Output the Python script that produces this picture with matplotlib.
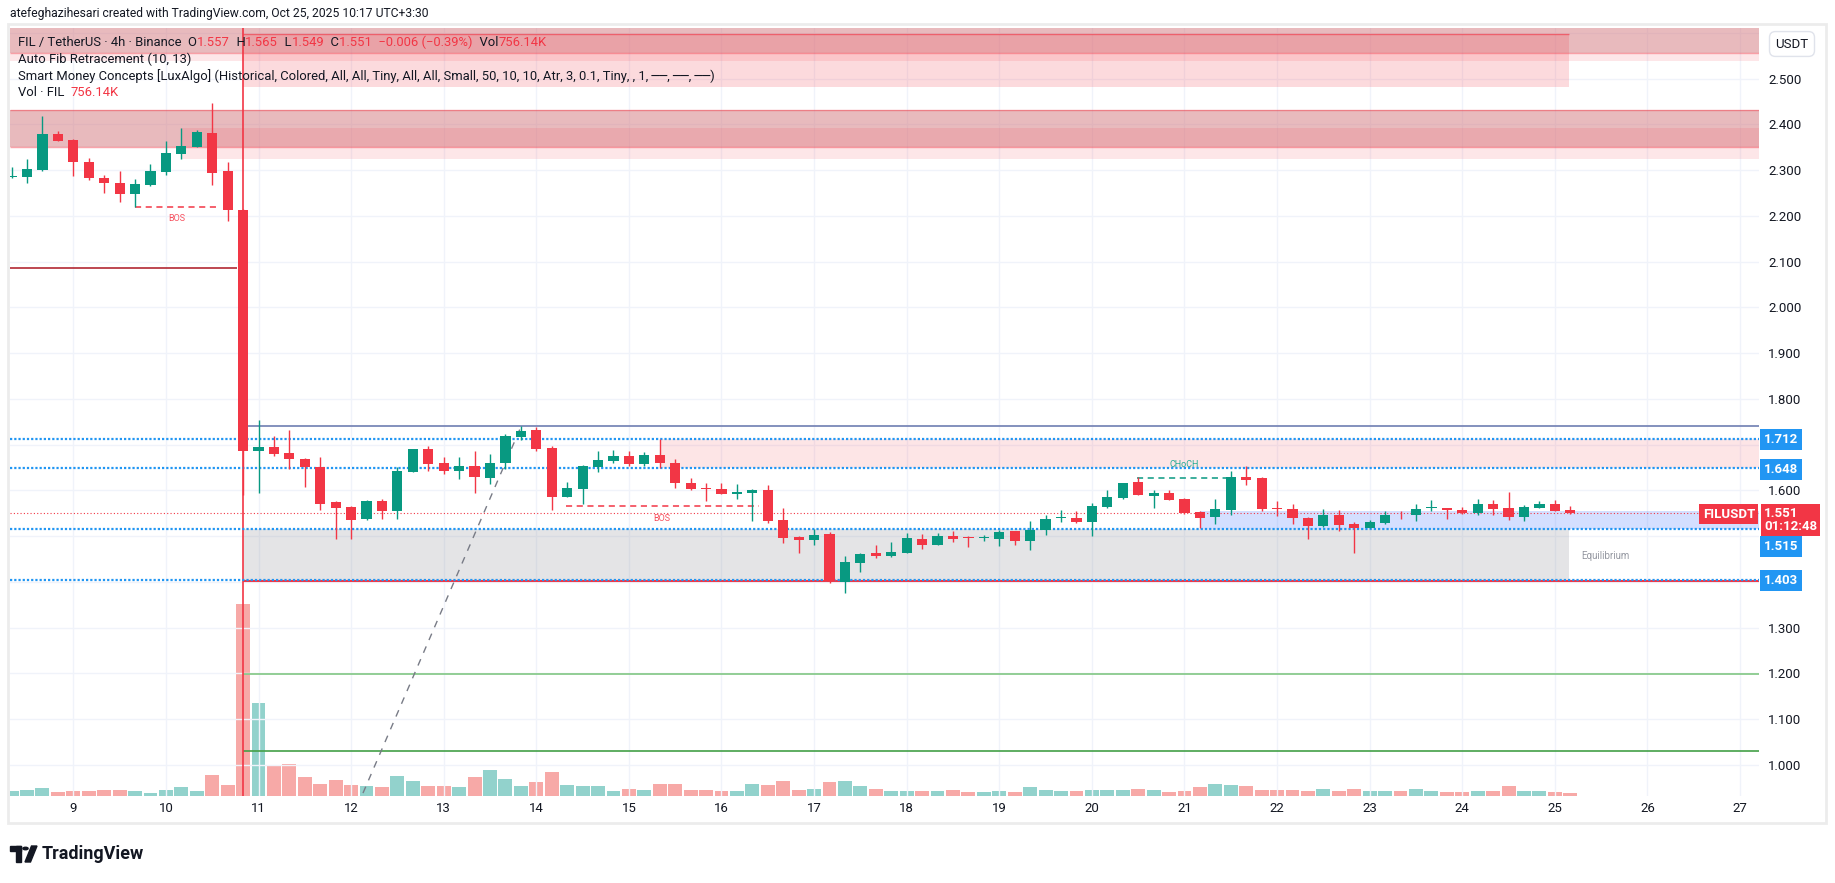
import matplotlib.pyplot as plt
from matplotlib.patches import Rectangle, Circle, Polygon
from matplotlib.transforms import blended_transform_factory
import numpy as np

plt.rcParams['font.family'] = ['Roboto', 'DejaVu Sans']

# FIL/USDT 4h candles, first bar = Oct 8 08:00, index 0 = Oct 11 00:00
first_bar = -16
opens = [2.285, 2.286, 2.300, 2.379, 2.366, 2.319, 2.284, 2.271, 2.249, 2.268, 2.297, 2.336, 2.351, 2.381, 2.298, 2.212,
         1.685, 1.695, 1.682, 1.668, 1.651, 1.574, 1.564, 1.538, 1.577, 1.555, 1.641, 1.690, 1.660, 1.643, 1.653, 1.628,
         1.660, 1.717, 1.732, 1.692, 1.586, 1.604, 1.652, 1.665, 1.675, 1.658, 1.677, 1.660, 1.616, 1.605, 1.603, 1.593,
         1.595, 1.601, 1.535, 1.499, 1.492, 1.504, 1.400, 1.442, 1.463, 1.457, 1.464, 1.494, 1.481, 1.500, 1.496, 1.495,
         1.494, 1.511, 1.490, 1.513, 1.539, 1.539, 1.531, 1.563, 1.583, 1.618, 1.588, 1.594, 1.581, 1.553, 1.542, 1.557,
         1.629, 1.627, 1.562, 1.559, 1.540, 1.522, 1.545, 1.526, 1.518, 1.529, 1.546, 1.545, 1.561, 1.561, 1.557, 1.550,
         1.570, 1.561, 1.542, 1.561, 1.570, 1.557]
highs = [2.306, 2.325, 2.419, 2.386, 2.368, 2.326, 2.289, 2.298, 2.281, 2.314, 2.364, 2.392, 2.388, 2.448, 2.319, 2.215,
         1.754, 1.719, 1.732, 1.670, 1.673, 1.577, 1.566, 1.578, 1.581, 1.652, 1.691, 1.698, 1.672, 1.673, 1.686, 1.679,
         1.723, 1.740, 1.738, 1.697, 1.618, 1.655, 1.686, 1.688, 1.686, 1.684, 1.712, 1.668, 1.626, 1.615, 1.616, 1.613,
         1.604, 1.612, 1.561, 1.501, 1.515, 1.508, 1.456, 1.464, 1.480, 1.486, 1.507, 1.504, 1.507, 1.511, 1.500, 1.502,
         1.513, 1.511, 1.533, 1.546, 1.557, 1.555, 1.572, 1.601, 1.617, 1.629, 1.601, 1.601, 1.583, 1.554, 1.581, 1.642,
         1.653, 1.629, 1.577, 1.570, 1.541, 1.559, 1.557, 1.531, 1.535, 1.555, 1.555, 1.570, 1.579, 1.562, 1.564, 1.581,
         1.579, 1.596, 1.568, 1.577, 1.579, 1.565]
lows = [2.284, 2.273, 2.298, 2.364, 2.288, 2.279, 2.250, 2.231, 2.219, 2.266, 2.290, 2.325, 2.351, 2.268, 2.190, 1.590,
        1.594, 1.674, 1.646, 1.608, 1.558, 1.494, 1.494, 1.536, 1.538, 1.537, 1.640, 1.643, 1.635, 1.625, 1.595, 1.613,
        1.647, 1.709, 1.685, 1.558, 1.586, 1.571, 1.641, 1.660, 1.654, 1.654, 1.649, 1.606, 1.600, 1.577, 1.592, 1.582,
        1.534, 1.528, 1.485, 1.464, 1.481, 1.398, 1.376, 1.421, 1.451, 1.455, 1.463, 1.472, 1.481, 1.487, 1.477, 1.490,
        1.479, 1.481, 1.469, 1.503, 1.531, 1.528, 1.501, 1.561, 1.581, 1.589, 1.561, 1.578, 1.549, 1.518, 1.526, 1.546,
        1.612, 1.555, 1.544, 1.526, 1.494, 1.520, 1.512, 1.462, 1.517, 1.527, 1.538, 1.532, 1.555, 1.538, 1.549, 1.547,
        1.545, 1.535, 1.534, 1.561, 1.554, 1.549]
closes = [2.288, 2.302, 2.379, 2.364, 2.317, 2.284, 2.273, 2.249, 2.269, 2.298, 2.338, 2.353, 2.384, 2.295, 2.212, 1.685,
          1.695, 1.680, 1.669, 1.652, 1.571, 1.562, 1.536, 1.577, 1.555, 1.642, 1.690, 1.658, 1.643, 1.653, 1.630, 1.660,
          1.719, 1.730, 1.691, 1.586, 1.605, 1.653, 1.666, 1.675, 1.658, 1.677, 1.660, 1.615, 1.603, 1.603, 1.593, 1.596,
          1.601, 1.534, 1.496, 1.491, 1.502, 1.402, 1.443, 1.461, 1.457, 1.465, 1.496, 1.481, 1.500, 1.494, 1.495, 1.496,
          1.509, 1.490, 1.513, 1.537, 1.540, 1.531, 1.566, 1.585, 1.616, 1.590, 1.594, 1.579, 1.550, 1.539, 1.559, 1.629,
          1.623, 1.559, 1.560, 1.539, 1.523, 1.545, 1.525, 1.518, 1.531, 1.545, 1.545, 1.559, 1.562, 1.556, 1.550, 1.570,
          1.559, 1.542, 1.564, 1.570, 1.555, 1.551]
# volume in millions FIL
volumes = [1.26, 1.44, 1.94, 0.76, 1.18, 1.01, 1.44, 1.44, 1.18, 0.68, 1.44, 2.02, 1.26, 5.29, 2.77, 48.4,
           23.2, 7.81, 8.06, 4.54, 3.02, 4.03, 2.77, 2.52, 2.02, 4.79, 3.78, 2.27, 2.52, 2.02, 4.54, 6.55,
           4.28, 2.27, 3.28, 6.05, 2.77, 2.52, 2.27, 1.01, 1.76, 1.51, 3.02, 2.90, 1.51, 1.51, 1.26, 1.01,
           3.02, 2.77, 3.53, 1.51, 1.76, 3.28, 3.78, 2.27, 1.76, 1.01, 1.01, 1.26, 1.01, 1.51, 0.76, 0.76,
           1.01, 0.76, 2.02, 1.51, 1.01, 1.01, 1.51, 1.51, 1.51, 1.76, 1.51, 0.76, 1.01, 2.02, 3.02, 2.77,
           2.27, 1.51, 1.51, 1.51, 1.26, 1.76, 1.26, 1.76, 1.01, 1.01, 1.26, 1.76, 1.26, 0.76, 0.76, 1.01,
           1.01, 2.27, 1.01, 1.01, 0.76, 0.756]

days = list(range(9, 28))
price_ticks = [1.0, 1.1, 1.2, 1.3, 1.4, 1.5, 1.6, 1.7, 1.8, 1.9, 2.0, 2.1, 2.2, 2.3, 2.4, 2.5, 2.6]
hidden_ticks = [1.4, 1.5, 1.7, 2.6]

# smart money levels, and where their axis tags sit (1.515 is pushed down by the last price tag)
level_lines = [1.712, 1.648, 1.515, 1.403]
level_tag_y = [1.712, 1.6455, 1.478, 1.403]
last_price = 1.551
fib_levels = {'dark': 2.086, 'top': 1.740, 'eq_low': 1.402, 'g1': 1.198, 'g2': 1.030}
# zones: (x start, x end, low, high)
zone_top_full = (2.556, 2.62)
zone_top_thin = (2.539, 2.556)
zone_top_box = (-1, 84.9, 2.482, 2.598)
zone_ob_full = (2.3516, 2.4313)
zone_ob_box = (-5, 2.3239, 2.3916)
premium = (26, 1.648, 1.712)
equilibrium = (-1, 84.9, 1.403, 1.515)
discount_blue = (61, 1.516, 1.555)
bos1 = (-8, -2.6, 2.219)
bos2 = (19.9, 32.4, 1.565)
choch = (56.9, 63.0, 1.628)
fib_trend = ([6.77, 17.0], [0.938, 1.7386])

GREEN = '#089981'
RED = '#f23645'
BLUE = '#2196f3'
TXT = '#131722'
ZONE_DARK = '#d3777d'

W, H = 1835, 883
fig = plt.figure(figsize=(W / 100, H / 100), dpi=100)
fig.patch.set_facecolor('white')


def fx(px):
    return px / W


def fy(py):
    return 1 - py / H


left, right, top, bottom = 10, 1759, 28, 795.5
ax2 = fig.add_axes([fx(left), fy(bottom), (right - left) / W, (bottom - top) / H])
ax = fig.add_axes([fx(left), fy(bottom), (right - left) / W, (bottom - top) / H])
ax.patch.set_visible(False)

xmin = -(258.5 - left) / 15.433
xmax = (right - 258.5) / 15.433
ax.set_xlim(xmin, xmax)
ax.set_ylim(0.9327, 2.611)
ax2.set_xlim(xmin, xmax)

idx = np.arange(len(opens)) + first_bar
o = np.array(opens)
h = np.array(highs)
l = np.array(lows)
c = np.array(closes)
v = np.array(volumes)
up = c >= o

# volume
ax2.bar(idx, v, width=0.9, color=np.where(up, '#92d2cc', '#f7a9a7'), zorder=1)
ax2.set_ylim(0, v.max() * (bottom - top) / 192)
ax2.axis('off')

# grid
ax.set_xticks([(d - 11) * 6 for d in days])
ax.set_xticklabels([str(d) for d in days])
ax.set_yticks(price_ticks)
ax.set_yticklabels(['' if p in hidden_ticks else '%.3f' % p for p in price_ticks])
ax.yaxis.tick_right()
ax.tick_params(axis='y', length=0, pad=6.5, labelsize=9.5, labelcolor=TXT)
ax.tick_params(axis='x', length=0, pad=5, labelsize=9.5, labelcolor=TXT)
ax.grid(color='#f0f3fa', lw=1)
ax.set_axisbelow(True)
for s in ax.spines.values():
    s.set_visible(False)


def zone(x0, x1, lo, hi, alpha, col=RED, z=1):
    ax.fill_between([x0, x1], lo, hi, color=col, alpha=alpha, lw=0, zorder=z)


zone(xmin, xmax, *zone_top_full, 0.5, col=ZONE_DARK)
zone(xmin, xmax, *zone_top_thin, 0.12)
zone(*zone_top_box, 0.18)
ax.hlines(zone_top_box[3], zone_top_box[0], zone_top_box[1], color=RED, alpha=0.6, lw=1)
ax.hlines(zone_top_full[0], xmin, xmax, color=RED, alpha=0.4, lw=1)
zone(xmin, xmax, *zone_ob_full, 0.5, col=ZONE_DARK)
ax.hlines(zone_ob_full, xmin, xmax, color=RED, alpha=0.45, lw=1)
zone(zone_ob_box[0], xmax, zone_ob_box[1], zone_ob_box[2], 0.12)
zone(premium[0], xmax, premium[1], premium[2], 0.13)
zone(*equilibrium, 0.2, col='#787b86')
zone(discount_blue[0], xmax, discount_blue[1], discount_blue[2], 0.2, col='#2962ff')

# fib / structure lines
ax.hlines(fib_levels['dark'], xmin, -1.4, color='#b22833', lw=1.2, zorder=3)
ax.hlines(fib_levels['top'], -1, xmax, color='#8390bd', lw=1.4, zorder=3)
ax.hlines(fib_levels['g1'], -1, xmax, color='#81c784', lw=1.2, zorder=3)
ax.hlines(fib_levels['g2'], -1, xmax, color='#43a047', lw=1.2, zorder=3)
ax.hlines(fib_levels['eq_low'], -1, xmax, color=RED, lw=1.5, zorder=3)
ax.axvline(-1, color=RED, lw=1.2, zorder=3)
ax.plot(*fib_trend, color='#787b86', lw=1, ls=(0, (5, 5)), zorder=3)
for p in level_lines:
    ax.axhline(p, color=BLUE, lw=1.6, ls=(0, (1, 0.9)), zorder=6)
ax.axhline(last_price, color=RED, lw=0.8, ls=(0, (1, 2)), zorder=3)

ax.hlines(bos1[2], bos1[0], bos1[1], color=RED, lw=1.1, ls=(0, (4, 3)), zorder=3)
ax.text((bos1[0] + bos1[1]) / 2, bos1[2] - 0.024, 'BOS', color='#f7525f', fontsize=6.5, ha='center', va='center')
ax.hlines(bos2[2], bos2[0], bos2[1], color=RED, lw=1.1, ls=(0, (4, 3)), zorder=3)
ax.text((bos2[0] + bos2[1]) / 2, bos2[2] - 0.026, 'BOS', color='#f7525f', fontsize=6.5, ha='center', va='center')
ax.hlines(choch[2], choch[0], choch[1], color=GREEN, lw=1.1, ls=(0, (4, 3)), zorder=3)
ax.text((choch[0] + choch[1]) / 2, choch[2] + 0.028, 'CHoCH', color='#22ab94', fontsize=6.5, ha='center',
        va='center')
ax.text(87.3, 1.4564, 'Equilibrium', color='#9598a1', fontsize=7, ha='center', va='center')

# candles
cols = np.where(up, GREEN, RED)
ax.vlines(idx, l, h, colors=cols, lw=1, zorder=7)
ax.bar(idx, np.maximum(np.abs(c - o), 0.002), bottom=np.minimum(o, c), width=0.66, color=cols, zorder=8)

# price axis tags
tr = blended_transform_factory(ax.transAxes, ax.transData)
for p, ty in zip(level_lines, level_tag_y):
    ax.text(1 + 5 / 1749, ty, '%.3f' % p, transform=tr, color='white', fontsize=9.5, fontweight='bold',
            ha='left', va='center', bbox=dict(boxstyle='square,pad=0.3', fc=BLUE, ec='none'), zorder=10)
ax.text(1 + 5 / 1749, last_price - 0.016, '%.3f\n01:12:48' % last_price, transform=tr, color='white',
        fontsize=9.5, fontweight='bold', ha='left', va='center', linespacing=1.0,
        bbox=dict(boxstyle='square,pad=0.25', fc=RED, ec='none'), zorder=11)
ax.text(1 - 4 / 1749, last_price - 0.003, 'FILUSDT', transform=tr, color='white', fontsize=9.5, fontweight='bold',
        ha='right', va='center', bbox=dict(boxstyle='square,pad=0.25', fc=RED, ec='none'), zorder=10)
fig.text(fx(1792), fy(44), 'USDT', fontsize=9.5, color=TXT, ha='center', va='center',
         bbox=dict(boxstyle='round,pad=0.45', fc='white', ec='#e0e3eb'))

# outer frame
fig.add_artist(Rectangle((fx(8), fy(823)), (1826 - 8) / W, (823 - 24) / H, fill=False, ec='#ececec', lw=2))

# header + legend
renderer = fig.canvas.get_renderer()


def text_row(x, y, pieces, size):
    for s, col in pieces:
        t = fig.text(fx(x), fy(y), s, color=col, fontsize=size, ha='left', va='center')
        x += t.get_window_extent(renderer).width


smc = ('Smart Money Concepts [LuxAlgo] (Historical, Colored, All, All, Tiny, All, All, Small, 50, 10, 10, Atr, 3, '
       '0.1, Tiny, , 1, \u2500\u2500, \u2500\u2500, \u2500\u2500)')
probe = fig.text(0, 0, smc, fontsize=10)
size = 10 * 694 / probe.get_window_extent(renderer).width
probe.remove()

head = 'atefeghazihesari created with TradingView.com, Oct 25, 2025 10:17 UTC+3:30'
probe = fig.text(0, 0, head, fontsize=10)
hsize = 10 * 419 / probe.get_window_extent(renderer).width
probe.remove()
text_row(10, 13, [(head, TXT)], hsize)

text_row(18, 42.5, [('FIL / TetherUS \u00b7 4h \u00b7 Binance  O', TXT), ('1.557', RED), ('  H', TXT), ('1.565', RED),
                    ('  L', TXT), ('1.549', RED), ('  C', TXT), ('1.551  \u22120.006 (\u22120.39%)', RED),
                    ('  Vol', TXT), ('756.14K', RED)], size)
text_row(18, 59.5, [('Auto Fib Retracement (10, 13)', TXT)], size)
text_row(18, 76.5, [(smc, TXT)], size)
text_row(18, 92.5, [('Vol \u00b7 FIL  ', TXT), ('756.14K', RED)], size)

# TradingView logo
fig.add_artist(Rectangle((fx(10), fy(851)), 11 / W, 5 / H, color='#131722'))
fig.add_artist(Rectangle((fx(16), fy(862)), 5 / W, 16 / H, color='#131722'))
fig.add_artist(Circle((fx(25.5), fy(848.5)), 2.6 / W, color='#131722'))
fig.add_artist(Polygon([[fx(25), fy(862)], [fx(30.5), fy(862)], [fx(37), fy(846)], [fx(31.5), fy(846)]],
                       closed=True, color='#131722'))
fig.text(fx(42), fy(854), 'TradingView', fontsize=13, fontweight='bold', color='#131722', ha='left', va='center')

fig.savefig('out.png', dpi=100)
